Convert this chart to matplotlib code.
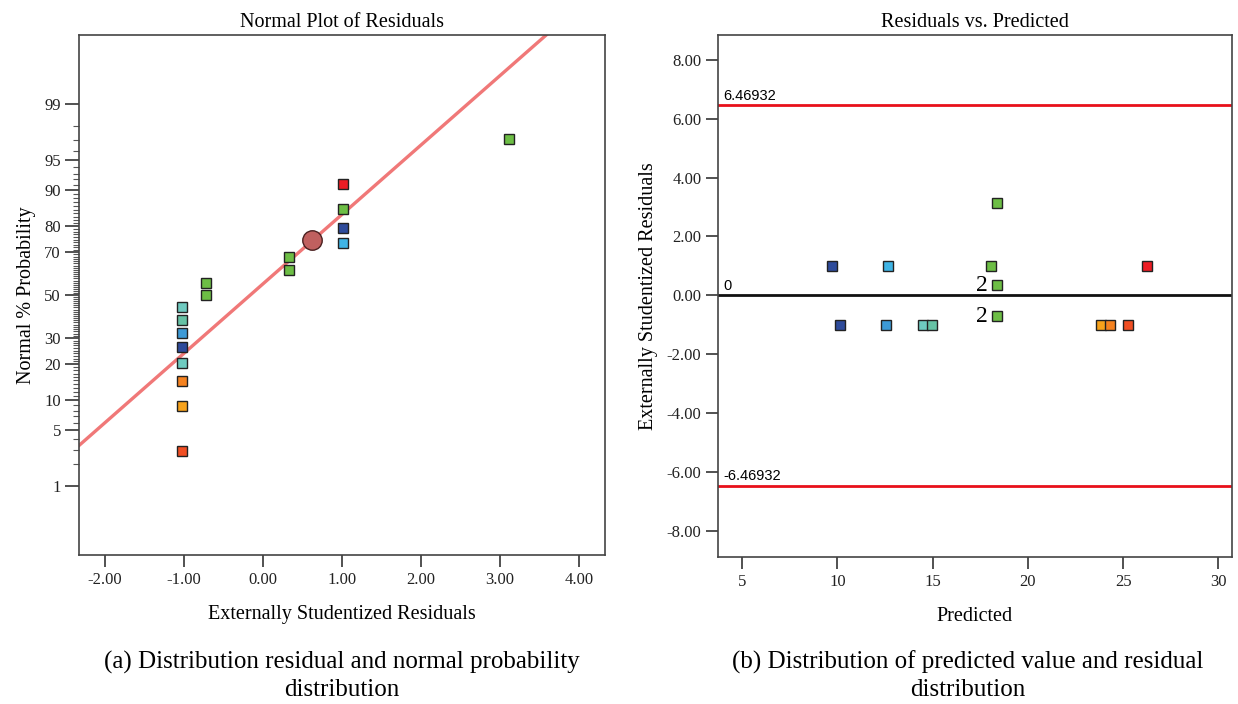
from statistics import NormalDist

import matplotlib
matplotlib.use("Agg")
import matplotlib.pyplot as plt
import numpy as np


# ---- left panel: normal probability plot ----
resid_normal = [-1.02, -1.02, -1.02, -1.02, -1.02, -1.02, -1.02, -1.02,
                -0.72, -0.72, 0.33, 0.33, 1.01, 1.01, 1.01, 1.01, 3.12]
prob_normal = [2.94, 8.82, 14.7, 20.6, 26.5, 32.4, 38.2, 44.1,
               50.0, 55.9, 61.8, 67.6, 73.5, 79.4, 85.3, 91.2, 97.1]
colors_normal = ["#f04e23", "#f7a21b", "#f58220", "#6ecbc0", "#2e4b9b",
                 "#3d9ad6", "#66c2a5", "#6fcac0", "#6dbe45", "#6dbe45",
                 "#6dbe45", "#6dbe45", "#3fb4e5", "#2e4b9b", "#6dbe45",
                 "#ed1c24", "#6dbe45"]
center_point = (0.62, 75.0)
fit_line_x = [-2.33, 3.58]
fit_line_prob = [3.37, 99.92]
prob_ticks = [1, 5, 10, 20, 30, 50, 70, 80, 90, 95, 99]
resid_ticks = [-2, -1, 0, 1, 2, 3, 4]

# ---- right panel: residuals vs predicted ----
predicted = [9.70, 12.68, 18.07, 26.27, 18.38, 18.38, 18.38,
             10.16, 12.56, 14.52, 14.96, 23.85, 24.33, 25.23]
resid_pred = [1.01, 1.01, 1.01, 1.01, 3.13, 0.34, -0.71,
              -1.02, -1.02, -1.02, -1.02, -1.02, -1.02, -1.02]
colors_pred = ["#2e4b9b", "#3fb4e5", "#6dbe45", "#ed1c24", "#6dbe45",
               "#6dbe45", "#6dbe45", "#2e4b9b", "#3d9ad6", "#6ecbc0",
               "#66c2a5", "#f7a21b", "#f58220", "#f04e23"]
repeat_labels = [(18.38, 0.34, "2"), (18.38, -0.71, "2")]
limit = 6.46932
pred_ticks = [5, 10, 15, 20, 25, 30]
resid_yticks = [-8, -6, -4, -2, 0, 2, 4, 6, 8]

SERIF = "Liberation Serif"
SANS = "Liberation Sans"
SPINE = "#444444"

plt.rcParams["font.family"] = SERIF
plt.rcParams["axes.unicode_minus"] = False

nd = NormalDist()


def z(p):
    if np.ndim(p) == 0:
        return nd.inv_cdf(float(p) / 100.0)
    return np.array([nd.inv_cdf(v / 100.0) for v in p])


def style_axes(ax):
    for s in ax.spines.values():
        s.set_color(SPINE)
        s.set_linewidth(1.2)
    ax.tick_params(colors="#222222", labelsize=12, width=1.1)


def plot_normal(ax):
    style_axes(ax)
    # fitted line through two read end points, extended and clipped by the axes
    zl = z(fit_line_prob)
    slope = (zl[1] - zl[0]) / (fit_line_x[1] - fit_line_x[0])
    ax.axline((fit_line_x[0], zl[0]), slope=slope,
              color="#f07878", lw=2.4, zorder=2)
    for x, p, c in zip(resid_normal, prob_normal, colors_normal):
        ax.plot(x, z(p), "s", ms=7.6, mfc=c, mec="#222222", mew=1.0, zorder=3)
    ax.plot(center_point[0], z(center_point[1]), "o", ms=14, mfc="#c0605f",
            mec="#4a2020", mew=1.0, zorder=4)

    ax.set_xlim(-2.33, 4.33)
    ax.set_ylim(-3.16, 3.16)
    ax.set_xticks(resid_ticks)
    ax.set_xticklabels([f"{t:.2f}" for t in resid_ticks])
    ax.set_yticks(z(prob_ticks))
    ax.set_yticklabels([str(t) for t in prob_ticks])
    minor = [p for p in range(2, 99) if p not in prob_ticks]
    ax.set_yticks(z(minor), minor=True)
    ax.tick_params(axis="y", which="major", length=10, pad=3)
    ax.tick_params(axis="y", which="minor", length=4.5, width=0.8, color="#555555")
    ax.tick_params(axis="x", length=8.5, pad=4)
    ax.set_title("Normal Plot of Residuals", fontsize=14.5, pad=6)
    ax.set_xlabel("Externally Studentized Residuals", fontsize=14.5, labelpad=12)
    ax.set_ylabel("Normal % Probability", fontsize=14.5, labelpad=6)


def plot_resid_pred(ax):
    style_axes(ax)
    ax.axhline(limit, color="#e8101a", lw=2.0, zorder=2)
    ax.axhline(-limit, color="#e8101a", lw=2.0, zorder=2)
    ax.axhline(0, color="#111111", lw=2.0, zorder=2)
    for x, y, c in zip(predicted, resid_pred, colors_pred):
        ax.plot(x, y, "s", ms=7.3, mfc=c, mec="#222222", mew=1.0, zorder=3)
    for x, y, t in repeat_labels:
        ax.annotate(t, xy=(x, y), xytext=(-7, 0), textcoords="offset points",
                    ha="right", va="center", fontsize=17, family=SERIF)
    for y, t in [(limit, "6.46932"), (0, "0"), (-limit, "-6.46932")]:
        ax.annotate(t, xy=(0, y), xycoords=("axes fraction", "data"),
                    xytext=(4, 1.5), textcoords="offset points",
                    ha="left", va="bottom", fontsize=10.5, family=SANS)

    ax.set_xlim(3.74, 30.7)
    ax.set_ylim(-8.9, 8.85)
    ax.set_xticks(pred_ticks)
    ax.set_yticks(resid_yticks)
    ax.set_yticklabels([f"{t:.2f}" for t in resid_yticks])
    ax.tick_params(axis="y", length=9, pad=3)
    ax.tick_params(axis="x", length=8.5, pad=4)
    ax.set_title("Residuals vs. Predicted", fontsize=14.5, pad=6)
    ax.set_xlabel("Predicted", fontsize=14.5, labelpad=12)
    ax.set_ylabel("Externally Studentized Residuals", fontsize=14.5, labelpad=6)


def main():
    fig = plt.figure(figsize=(12.38, 7.04), dpi=100)
    ax1 = fig.add_axes([0.0638, 0.2116, 0.4249, 0.7386])
    ax2 = fig.add_axes([0.580, 0.2088, 0.415, 0.7415])
    plot_normal(ax1)
    plot_resid_pred(ax2)

    fig.text(0.2763, 0.040, "(a) Distribution residual and normal probability\ndistribution",
             ha="center", va="center", fontsize=18, linespacing=1.32)
    fig.text(0.782, 0.040, "(b) Distribution of predicted value and residual\ndistribution",
             ha="center", va="center", fontsize=18, linespacing=1.32)

    fig.savefig("out.png", dpi=100)
    plt.close(fig)


if __name__ == "__main__":
    main()
